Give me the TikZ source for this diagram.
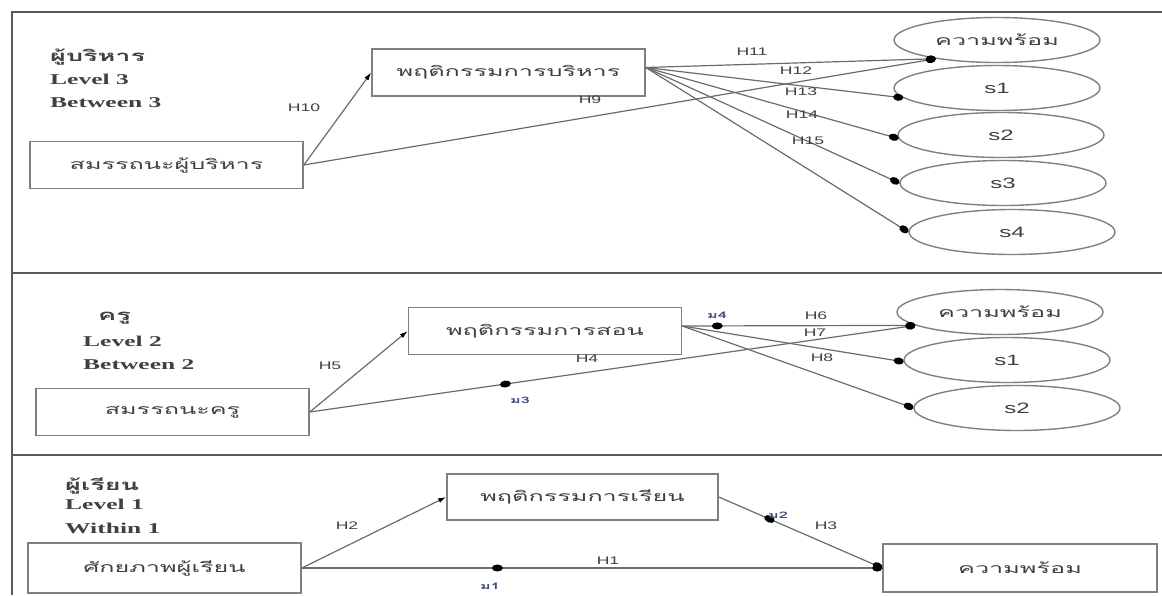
\documentclass[tikz,border=0pt]{standalone}
\usepackage{fontspec}
\usetikzlibrary{arrows.meta,shapes.geometric}
\newfontfamily\thaifont[Script=Thai,FakeStretch=1.8]{Loma}
\newfontfamily\lvfont[FakeStretch=1.7]{Liberation Serif}
\newfontfamily\hfont[FakeStretch=1.6]{Liberation Sans}
\definecolor{linegray}{gray}{0.42}
\definecolor{boxgray}{gray}{0.5}
\definecolor{txtgray}{gray}{0.25}
\definecolor{framegray}{gray}{0.35}
\definecolor{smallblue}{rgb}{0.25,0.3,0.5}
\tikzset{
  boxnode/.style={draw=boxgray,line width=1.6pt,minimum width=273pt,minimum height=47pt,inner sep=0pt,
    font=\thaifont\fontsize{14}{16}\selectfont,text=txtgray},
  ellnode/.style={ellipse,draw=boxgray,line width=1.4pt,minimum width=206pt,minimum height=45pt,inner sep=0pt,
    font=\thaifont\fontsize{14}{16}\selectfont,text=txtgray},
  sellnode/.style={ellnode,font=\hfont\fontsize{15}{17}\selectfont},
  hlab/.style={font=\hfont\fontsize{11}{12}\selectfont,text=txtgray,inner sep=0pt},
  mlab/.style={font=\thaifont\bfseries\fontsize{9}{10}\selectfont,text=smallblue,inner sep=0pt},
  lvtxt/.style={font=\lvfont\bfseries\fontsize{15}{17}\selectfont,text=txtgray,anchor=west,inner sep=0pt},
  thhead/.style={font=\thaifont\bfseries\fontsize{15}{17}\selectfont,text=txtgray,anchor=west,inner sep=0pt},
  conn/.style={draw=linegray,line width=1.2pt},
  arr/.style={conn,-{Latex[length=8pt,width=5pt,fill=black,color=black]}},
  dotarr/.style={conn,-{Circle[length=10pt,width=7pt,fill=black,color=black]}},
  middot/.style={ellipse,fill=black,inner sep=0pt,minimum width=11pt,minimum height=7pt,sloped},
  framel/.style={draw=framegray,line width=2.2pt}
}
\begin{document}
\begin{tikzpicture}[x=1pt,y=-1pt]
\useasboundingbox (0,0) rectangle (1162,595);
% frame
\draw[framel] (12,595) -- (12,12) -- (1162,12);
\draw[framel] (12,273) -- (1162,273);
\draw[framel] (12,455) -- (1162,455);

% ---------- Panel 1 ----------
\node[thhead] (t1) at (50,57) {ผู้บริหาร};
\node[lvtxt] (l1) at (50,79) {Level 3};
\node[lvtxt] (b1) at (50,103) {Between 3};
\node[boxnode] (a1) at (166.5,165) {สมรรถนะผู้บริหาร};
\node[boxnode] (a2) at (508.5,72.5) {พฤติกรรมการบริหาร};
\node[ellnode] (e0) at (997,40) {ความพร้อม};
\node[sellnode] (e1) at (997,88) {s1};
\node[sellnode] (e2) at (1001,135) {s2};
\node[sellnode] (e3) at (1003,183) {s3};
\node[sellnode] (e4) at (1012,232) {s4};

\draw[arr] (a1.east) -- (a2.west);
\draw[dotarr] (a1.east) -- (e0.197);
\draw[dotarr] ([yshift=5pt]a2.east) -- (e0.197);
\draw[dotarr] ([yshift=5pt]a2.east) -- (e1.186);
\draw[dotarr] ([yshift=5pt]a2.east) -- (e2.182);
\draw[dotarr] ([yshift=5pt]a2.east) -- (e3.180);
\draw[dotarr] ([yshift=5pt]a2.east) -- (e4.180);

\node[hlab] (h10) at (304,108) {H10};
\node[hlab] (h9) at (590,100) {H9};
\node[hlab] (h11) at (752,52) {H11};
\node[hlab] (h12) at (796,71) {H12};
\node[hlab] (h13) at (801,92) {H13};
\node[hlab] (h14) at (802,115) {H14};
\node[hlab] (h15) at (808,141) {H15};

% ---------- Panel 2 ----------
\node[thhead] (t2) at (98,318) {ครู};
\node[lvtxt] (l2) at (83,341) {Level 2};
\node[lvtxt] (b2) at (83,365) {Between 2};
\node[boxnode] (c1) at (172.5,412) {สมรรถนะครู};
\node[boxnode] (c2) at (545,331) {พฤติกรรมการสอน};
\node[ellnode] (f0) at (1000,312) {ความพร้อม};
\node[sellnode] (f1) at (1007,360) {s1};
\node[sellnode] (f2) at (1017,408) {s2};

\draw[arr] (c1.east) -- (c2.west);
\draw[dotarr] (c1.east) -- node[middot,pos=0.323] (m3) {} (f0.189);
\draw[dotarr] ([yshift=5pt]c2.east) -- node[middot,pos=0.15] (m4) {} (f0.189);
\draw[dotarr] ([yshift=5pt]c2.east) -- (f1.181);
\draw[dotarr] ([yshift=5pt]c2.east) -- (f2.180);

\node[hlab] (h5) at (330,366) {H5};
\node[hlab] (h4) at (587,359) {H4};
\node[hlab] (h6) at (816,316) {H6};
\node[hlab] (h7) at (815,333) {H7};
\node[hlab] (h8) at (822,358) {H8};
\node[mlab] (lm3) at (520,400) {ม3};
\node[mlab] (lm4) at (717,315) {ม4};

% ---------- Panel 3 ----------
\node[thhead] (t3) at (65,486) {ผู้เรียน};
\node[lvtxt] (l3) at (65,504) {Level 1};
\node[lvtxt] (b3) at (65,528) {Within 1};
\node[boxnode,minimum height=50pt] (d1) at (164.5,568) {ศักยภาพผู้เรียน};
\node[boxnode,minimum width=271pt,minimum height=46pt] (d2) at (582.5,497) {พฤติกรรมการเรียน};
\node[boxnode,minimum width=274pt,minimum height=48pt] (d3) at (1020,568) {ความพร้อม};

\draw[arr] (d1.east) -- (d2.west);
\draw[dotarr] (d1.east) -- node[middot,pos=0.337] (m1) {} (d3.west);
\draw[dotarr] (d2.east) -- node[middot,pos=0.31] (m2) {} (d3.west);

\node[hlab] (h2) at (347,526) {H2};
\node[hlab] (h1) at (608,561) {H1};
\node[hlab] (h3) at (826,526) {H3};
\node[mlab] (lm1) at (490,586) {ม1};
\node[mlab] (lm2) at (778,515) {ม2};
\end{tikzpicture}
\end{document}
